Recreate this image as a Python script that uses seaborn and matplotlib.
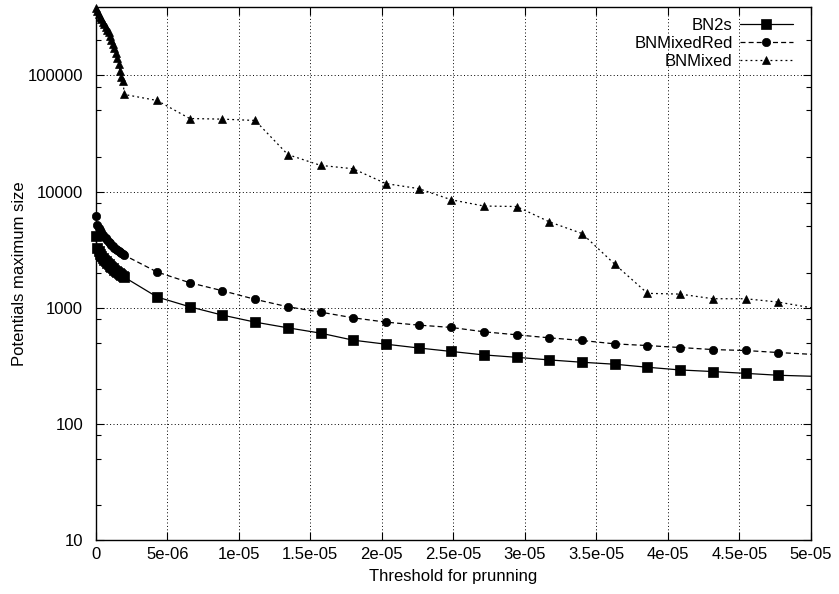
import numpy as np
import pandas as pd
import seaborn as sns
import matplotlib.pyplot as plt
from matplotlib.ticker import LogLocator, FixedLocator, FuncFormatter, NullFormatter

sns.set_style('ticks')
plt.rcParams['font.family'] = ['Liberation Sans', 'DejaVu Sans']
plt.rcParams['font.size'] = 12
plt.rcParams['text.color'] = 'black'
plt.rcParams['axes.labelcolor'] = 'black'

# pruning thresholds: dense part 0..2e-6, then coarse steps up to 5e-5
dense_x = [0.0, 1e-7, 2e-7, 3e-7, 4e-7, 5e-7, 6e-7, 7e-7, 8e-7, 9e-7, 1.0e-6,
           1.1e-6, 1.2e-6, 1.3e-6, 1.4e-6, 1.5e-6, 1.6e-6, 1.7e-6, 1.8e-6, 1.9e-6, 2.0e-6]
sparse_x = [4.286e-6, 6.571e-6, 8.857e-6, 11.143e-6, 13.429e-6, 15.714e-6, 18.0e-6,
            20.286e-6, 22.571e-6, 24.857e-6, 27.143e-6, 29.429e-6, 31.714e-6, 34.0e-6,
            36.286e-6, 38.571e-6, 40.857e-6, 43.143e-6, 45.429e-6, 47.714e-6, 50.0e-6]
thresholds = dense_x + sparse_x

bn2s = [4130, 3250, 3050, 2900, 2780, 2680, 2590, 2500, 2430, 2360, 2300,
        2240, 2180, 2130, 2080, 2030, 1990, 1950, 1910, 1870, 1830,
        1237, 1018, 863, 751, 671, 604, 525, 485, 450, 420, 392,
        374, 355, 339, 326, 307, 291, 282, 272, 262, 257]
bnmixedred = [6180, 5200, 4900, 4650, 4450, 4250, 4100, 3950, 3800, 3700, 3580,
              3470, 3380, 3290, 3200, 3130, 3060, 2990, 2930, 2880, 2830,
              2028, 1641, 1400, 1180, 1018, 916, 818, 751, 708, 676, 620,
              584, 550, 522, 488, 472, 454, 436, 428, 411, 397]
bnmixed = [380000, 360000, 340000, 320000, 305000, 290000, 275000, 262000, 248000, 234000, 218000,
           202000, 187000, 172000, 156000, 140000, 125000, 108000, 96000, 90000, 68500,
           60800, 42500, 42000, 40900, 20800, 16800, 15700, 11700, 10600, 8490, 7500,
           7430, 5480, 4350, 2365, 1329, 1309, 1194, 1194, 1117, 1000]

df = pd.DataFrame({'threshold': thresholds, 'BN2s': bn2s,
                   'BNMixedRed': bnmixedred, 'BNMixed': bnmixed})

fig = plt.figure(figsize=(8.39, 5.94), dpi=100)
ax = fig.add_axes([0.1141, 0.0909, 0.8525, 0.8978])

series = [('BN2s', 's', 6.8, '-'),
          ('BNMixedRed', 'o', 6.0, (0, (4, 2.5))),
          ('BNMixed', '^', 6.0, (0, (1.5, 2.5)))]
marks = list(range(len(thresholds) - 1))
for name, mk, ms, ls in series:
    sns.lineplot(data=df, x='threshold', y=name, ax=ax, color='black', label=name,
                 marker=mk, markersize=ms, markeredgecolor='black', markeredgewidth=0.5,
                 linestyle=ls, linewidth=0.9, estimator=None, sort=False,
                 markevery=marks, clip_on=False, zorder=3)

ax.set_yscale('log')
ax.set_xlim(0, 5e-5)
ax.set_ylim(10, 3.9e5)

ax.xaxis.set_major_locator(FixedLocator([i * 5e-6 for i in range(11)]))
ax.xaxis.set_major_formatter(FuncFormatter(lambda v, p: '%g' % round(v, 12)))
ax.yaxis.set_major_locator(LogLocator(base=10, numticks=10))
ax.yaxis.set_minor_locator(LogLocator(base=10, subs=(2, 5, 8), numticks=10))
ax.yaxis.set_major_formatter(FuncFormatter(lambda v, p: '%g' % v))
ax.yaxis.set_minor_formatter(NullFormatter())

ax.tick_params(which='both', direction='in', top=True, right=True, colors='black')
ax.tick_params(which='major', length=6, width=0.8, labelsize=12)
ax.tick_params(axis='x', which='major', pad=5)
ax.tick_params(axis='y', which='major', pad=9)
ax.tick_params(which='minor', length=3.5, width=0.8)
for s in ax.spines.values():
    s.set_linewidth(1.0)
    s.set_color('black')

ax.grid(True, which='major', color='black', linestyle=(0, (1, 2.5)), linewidth=0.7)
ax.set_axisbelow(True)

ax.set_xlabel('Threshold for prunning', fontsize=12, labelpad=5)
ax.set_ylabel('Potentials maximum size', fontsize=12, labelpad=0.5)

ax.legend(loc='upper right', bbox_to_anchor=(0.984, 0.992), frameon=False, markerfirst=False,
          handlelength=3.2, handletextpad=0.4, labelspacing=0.2, borderaxespad=0, fontsize=12)

fig.savefig('out.png', dpi=100)
